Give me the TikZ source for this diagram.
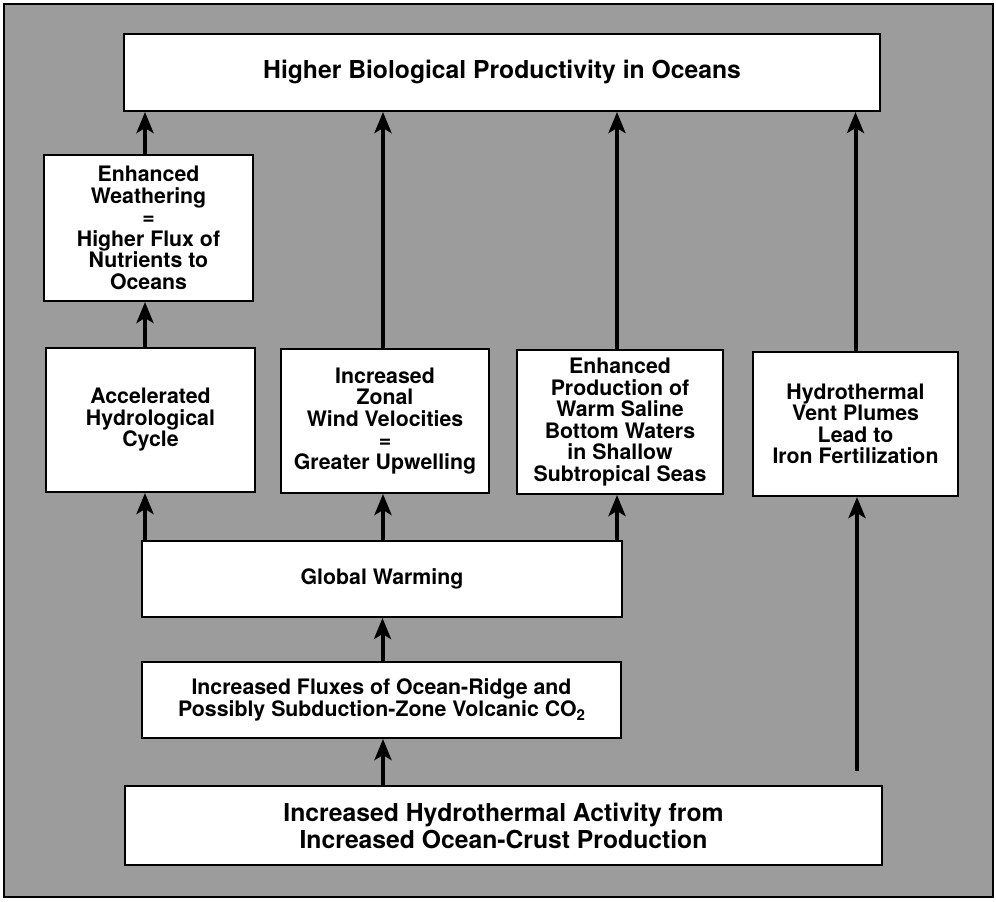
\documentclass[tikz,border=0pt]{standalone}
\usepackage{fontspec}
\setmainfont{TeX Gyre Heros}
\usetikzlibrary{arrows.meta}
\definecolor{bggray}{RGB}{156,156,156}
\newcommand{\subtwo}{\raisebox{-0.35ex}{\fontsize{15}{15}\selectfont 2}}
\tikzset{
  box/.style={draw=black, line width=2pt, fill=white, inner sep=0pt, align=center,
    font=\bfseries\fontsize{21.3}{21.5}\selectfont},
  bigbox/.style={box, font=\bfseries\fontsize{24.7}{27}\selectfont},
  arr/.style={line width=4pt, -{Stealth[length=21pt,width=17pt,inset=5pt]}},
}
\begin{document}
\begin{tikzpicture}[x=1pt,y=-1pt]
\fill[white] (0,0) rectangle (996,902);
\useasboundingbox (0,0) rectangle (996,902);
\draw[line width=2pt, fill=bggray] (4,4) rectangle (993,897);

\node[bigbox, minimum width=756pt, minimum height=77pt] (top) at (502,72.5)
  {Higher Biological Productivity in Oceans};
\node[box, minimum width=209pt, minimum height=146pt] (weather) at (148.5,228)
  {Enhanced\\Weathering\\=\\Higher Flux of\\Nutrients to\\Oceans};
\node[box, minimum width=209pt, minimum height=144pt] (acc) at (150.5,420)
  {Accelerated\\Hydrological\\Cycle};
\node[box, minimum width=208pt, minimum height=144pt] (zonal) at (385,421)
  {Increased\\Zonal\\Wind Velocities\\=\\Greater Upwelling};
\node[box, minimum width=206pt, minimum height=144pt] (prod) at (620,422)
  {Enhanced\\Production of\\Warm Saline\\Bottom Waters\\in Shallow\\Subtropical Seas};
\node[box, minimum width=205pt, minimum height=144pt] (hv) at (855.5,424)
  {Hydrothermal\\Vent Plumes\\Lead to\\Iron Fertilization};
\node[box, minimum width=480pt, minimum height=76pt] (gw) at (382,579)
  {Global Warming};
\node[box, minimum width=479pt, minimum height=76pt] (flux) at (381.5,700)
  {Increased Fluxes of Ocean-Ridge and\\Possibly Subduction-Zone Volcanic CO\subtwo};
\node[bigbox, minimum width=757pt, minimum height=79pt] (bot) at (503.5,825.5)
  {Increased Hydrothermal Activity from\\Increased Ocean-Crust Production};
\coordinate (hvstart) at (857,771);

\draw[arr] ([xshift=-3.5pt]weather.north) -- ([xshift=-3.5pt]weather.north |- top.south);
\draw[arr] ([xshift=-5.5pt]acc.north) -- ([xshift=-5.5pt]acc.north |- weather.south);
\draw[arr] ([xshift=-2pt]zonal.north) -- ([xshift=-2pt]zonal.north |- top.south);
\draw[arr] ([xshift=-3pt]prod.north) -- ([xshift=-3pt]prod.north |- top.south);
\draw[arr] (hv.north) -- (hv.north |- top.south);
\draw[arr] ([xshift=-5.5pt]acc.south |- gw.north) -- ([xshift=-5.5pt]acc.south);
\draw[arr] ([xshift=-2pt]zonal.south |- gw.north) -- ([xshift=-2pt]zonal.south);
\draw[arr] ([xshift=-3pt]prod.south |- gw.north) -- ([xshift=-3pt]prod.south);
\draw[arr] ([xshift=1pt]flux.north) -- ([xshift=1pt]flux.north |- gw.south);
\draw[arr] ([xshift=-120.5pt]bot.north) -- ([xshift=-120.5pt]bot.north |- flux.south);
\draw[arr] (hvstart) -- (hvstart |- hv.south);
\end{tikzpicture}
\end{document}
